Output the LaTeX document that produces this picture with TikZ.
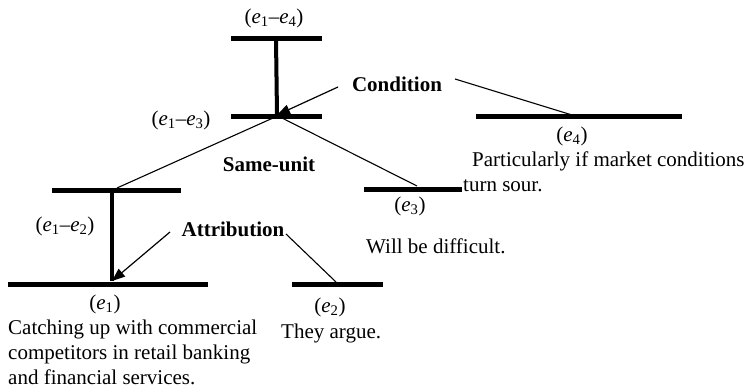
\documentclass[tikz,border=0pt]{standalone}
\usepackage{fontspec}
\setmainfont{Liberation Serif}
\usetikzlibrary{arrows.meta}
\newcommand{\eu}[1]{\textit{e}\textsubscript{#1}}
\begin{document}
\begin{tikzpicture}[x=1pt,y=-1pt,
  bar/.style={line width=5pt},
  vbar/.style={line width=4pt},
  thin/.style={line width=1.1pt},
  arr/.style={line width=1.2pt,-{Triangle[length=13pt,width=10pt]}},
  lbl/.style={font=\fontsize{21}{25}\selectfont,inner sep=0pt},
  rel/.style={font=\fontsize{21}{25}\selectfont\bfseries,inner sep=0pt},
  txt/.style={font=\fontsize{21}{25}\selectfont,inner sep=0pt,anchor=west}]
\useasboundingbox (0,0) rectangle (747,390);
% coordinates
\coordinate (t14a) at (231,39);  \coordinate (t14b) at (322,39); \coordinate (t14m) at (276,39);
\coordinate (t13a) at (231,117); \coordinate (t13b) at (322,117); \coordinate (t13m) at (277,115);
\coordinate (t13l) at (273,118); \coordinate (t13r) at (282,118);
\coordinate (e4a) at (476,117);  \coordinate (e4b) at (682,117); \coordinate (e4m) at (572,115);
\coordinate (t12a) at (52,191);  \coordinate (t12b) at (181,191); \coordinate (t12m) at (112,191);
\coordinate (t12l) at (117,188);
\coordinate (e3a) at (364,190);  \coordinate (e3b) at (462,190); \coordinate (e3m) at (417,186);
\coordinate (e1a) at (8,284);    \coordinate (e1b) at (208,284); \coordinate (e1m) at (112,281);
\coordinate (e2a) at (292,284);  \coordinate (e2b) at (383,284); \coordinate (e2m) at (336,282);
\coordinate (cs) at (338,87);  \coordinate (ce) at (455,79);
\coordinate (as) at (170,232); \coordinate (ae) at (286,234);
% bars
\draw[bar] (t14a) -- (t14b);
\draw[bar] (t13a) -- (t13b);
\draw[bar] (e4a) -- (e4b);
\draw[bar] (t12a) -- (t12b);
\draw[bar] (e3a) -- (e3b);
\draw[bar] (e1a) -- (e1b);
\draw[bar] (e2a) -- (e2b);
% verticals
\draw[vbar] (t14m) -- (t13m);
\draw[vbar] (t12m) -- (e1m);
% labels
\node[lbl] (l14) at (274,18) {(\eu{1}–\eu{4})};
\node[lbl] (l13) at (181,120) {(\eu{1}–\eu{3})};
\node[lbl] (l12) at (65,226) {(\eu{1}–\eu{2})};
\node[lbl] (l4) at (572,136) {(\eu{4})};
\node[lbl] (l3) at (410,206) {(\eu{3})};
\node[lbl] (l1) at (105,304) {(\eu{1})};
\node[lbl] (l2) at (330,307) {(\eu{2})};
\node[rel] (cond) at (397,84) {Condition};
\node[rel] (same) at (269,164) {Same-unit};
\node[rel] (attr) at (233,229) {Attribution};
% texts
\node[txt] (t4a) at (472,161) {Particularly if market conditions};
\node[txt] (t4b) at (463,186) {turn sour.};
\node[txt] (t3) at (366,246) {Will be difficult.};
\node[txt,align=left] (t1) at (8,352) {Catching up with commercial\\competitors in retail banking\\and financial services.};
\node[txt] (t2) at (281,333) {They argue.};
% relation lines
\draw[arr] (cs) -- (t13m);
\draw[thin] (ce) -- (e4m);
\draw[thin] (t13l) -- (t12l);
\draw[thin] (t13r) -- (e3m);
\draw[arr] (as) -- (e1m);
\draw[thin] (ae) -- (e2m);
\end{tikzpicture}
\end{document}
